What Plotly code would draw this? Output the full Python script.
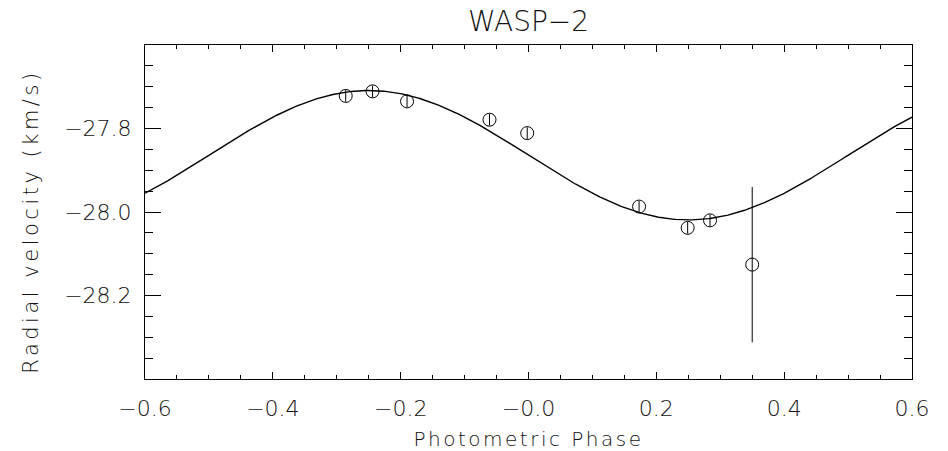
import numpy as np
import plotly.graph_objects as go

# Radial-velocity measurements of WASP-2 folded on the photometric phase
phase = [-0.286, -0.244, -0.190, -0.061, -0.002, 0.173, 0.249, 0.284, 0.350]
rv = [-27.722, -27.711, -27.735, -27.779, -27.811, -27.987, -28.038, -28.020, -28.126]
rv_err = [0.014, 0.014, 0.014, 0.014, 0.014, 0.014, 0.014, 0.014, 0.186]

# Circular-orbit fit: systemic velocity and semi-amplitude (km/s)
gamma = -27.864
k_amp = 0.155

x_ticks = [-0.6, -0.4, -0.2, 0.0, 0.2, 0.4, 0.6]
x_tick_text = ["\u22120.6", "\u22120.4", "\u22120.2", "\u22120.0", "0.2", "0.4", "0.6"]
y_ticks = [-27.8, -28.0, -28.2]
y_tick_text = ["\u221227.8", "\u221228.0", "\u221228.2"]

FONT = "DejaVu Sans"
INK = "#111111"

model_phase = np.linspace(-0.6, 0.6, 601)
model_rv = gamma - k_amp * np.sin(2 * np.pi * model_phase)

fig = go.Figure()
fig.add_trace(go.Scatter(
    x=model_phase, y=model_rv, mode="lines",
    line=dict(color="black", width=1.4), hoverinfo="skip",
))
fig.add_trace(go.Scatter(
    x=phase, y=rv, mode="markers",
    marker=dict(symbol="circle-open", size=13, color="black", line=dict(width=1)),
    error_y=dict(type="data", array=rv_err, color="black", thickness=1, width=0),
))

axis_common = dict(
    showline=True, linecolor="black", linewidth=1, mirror="ticks",
    ticks="inside", tickcolor="black", tickwidth=1,
    showgrid=False, zeroline=False, automargin=False,
    tickfont=dict(family=FONT, size=22, color=INK, weight=300),
)

fig.update_layout(
    width=948, height=451,
    margin=dict(l=145, r=36, t=45, b=72, autoexpand=False),
    paper_bgcolor="white", plot_bgcolor="white",
    showlegend=False,
    title=dict(
        text="WASP\u22122", x=0.5, xanchor="center", xref="paper",
        y=1 - 21 / 451, yref="container", yanchor="middle",
        font=dict(family=FONT, size=28, color=INK, weight=300),
    ),
    xaxis=dict(
        range=[-0.6, 0.6], tickvals=x_ticks, ticktext=x_tick_text,
        ticklen=7, ticklabelstandoff=10,
        minor=dict(ticks="inside", dtick=0.05, ticklen=4, tickcolor="black", tickwidth=1),
        title=dict(
            text='<span style="letter-spacing:2.5px">Photometric Phase</span>',
            font=dict(family=FONT, size=20, color=INK, weight=300), standoff=14,
        ),
        **axis_common,
    ),
    yaxis=dict(
        range=[-28.4, -27.6], tickvals=y_ticks, ticktext=y_tick_text,
        ticklen=16, ticklabelstandoff=8,
        minor=dict(ticks="inside", dtick=0.05, ticklen=8, tickcolor="black", tickwidth=1),
        **axis_common,
    ),
    annotations=[dict(
        text='<span style="letter-spacing:3.5px">Radial velocity (km/s)</span>',
        textangle=-90, xref="paper", yref="paper",
        x=-0.149, y=0.47, xanchor="center", yanchor="middle",
        showarrow=False, font=dict(family=FONT, size=21, color=INK, weight=300),
    )],
)

fig.write_html("out.html")
